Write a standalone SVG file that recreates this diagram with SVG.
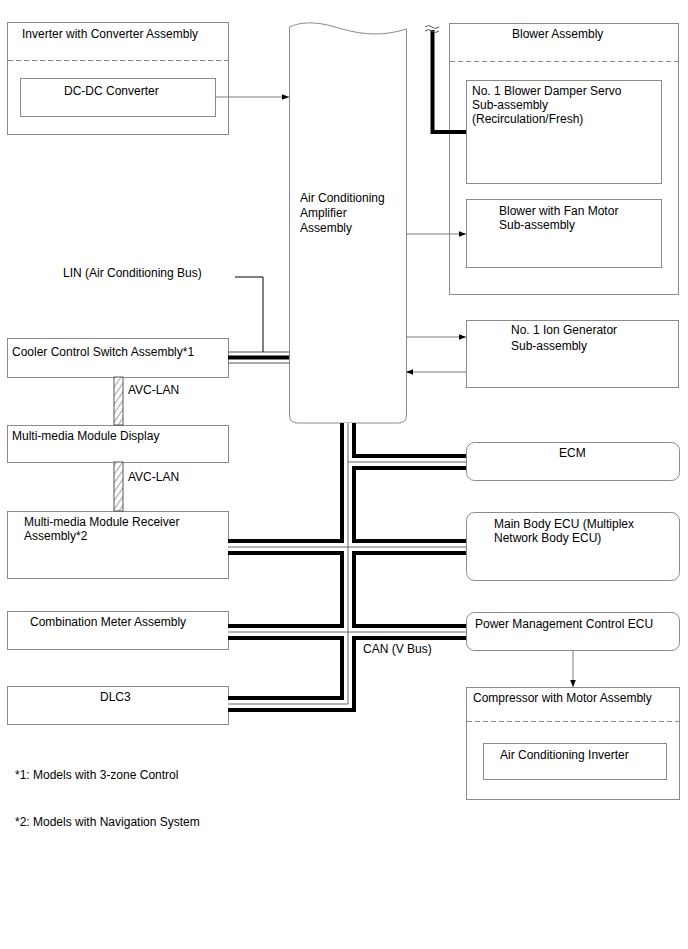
<svg xmlns="http://www.w3.org/2000/svg" width="688" height="949" viewBox="0 0 688 949">
<defs>
<style>
.box{fill:#fff;stroke:#8a8a8a;stroke-width:1}
.dash{stroke:#8a8a8a;stroke-width:1;stroke-dasharray:5,3;fill:none}
.t{font-family:"Liberation Sans",Arial,sans-serif;font-size:12px;fill:#000}
.ln{stroke:#7a7a7a;stroke-width:1;fill:none}
.canB{stroke:#000;stroke-width:16;fill:none;stroke-linejoin:miter}
.canW{stroke:#fff;stroke-width:8;fill:none;stroke-linejoin:miter}
.canC{stroke:#666;stroke-width:1;fill:none}
</style>
<marker id="ah" viewBox="0 0 10 10" refX="10" refY="5" markerWidth="9" markerHeight="7" markerUnits="userSpaceOnUse" orient="auto">
<path d="M0,1 L10,5 L0,9 Z" fill="#000"/>
</marker>
<pattern id="hatch" patternUnits="userSpaceOnUse" width="5" height="5" patternTransform="rotate(35)">
<rect width="5" height="5" fill="#fff"/>
<line x1="0" y1="0" x2="0" y2="5" stroke="#444" stroke-width="1"/>
</pattern>
</defs>
<rect width="688" height="949" fill="#fff"/>

<g id="inverter-converter">
<rect class="box" x="7.5" y="22.5" width="221" height="112"/>
<line class="dash" x1="8" y1="60.5" x2="228" y2="60.5"/>
<text class="t" x="22" y="38">Inverter with Converter Assembly</text>
</g>
<g id="dcdc-converter">
<rect class="box" x="20.5" y="78.5" width="195" height="38"/>
<text class="t" x="64" y="95">DC-DC Converter</text>
</g>

<g id="ac-amplifier">
<path class="box" d="M289.5,27 C300,22 315,21 335,27 C355,33 378,38 406.5,29 V415 Q406.5,423 398.5,423 H297.5 Q289.5,423 289.5,415 Z"/>
<text class="t" x="300" y="202">Air Conditioning</text>
<text class="t" x="300" y="217">Amplifier</text>
<text class="t" x="300" y="232">Assembly</text>
</g>

<g id="blower-assembly">
<rect class="box" x="449.5" y="23.5" width="229" height="271"/>
<line class="dash" x1="450" y1="61.5" x2="678" y2="61.5"/>
<text class="t" x="512" y="38">Blower Assembly</text>
</g>
<g id="damper-servo">
<rect class="box" x="466.5" y="80.5" width="195" height="103"/>
<text class="t" x="472" y="95">No. 1 Blower Damper Servo</text>
<text class="t" x="472" y="109">Sub-assembly</text>
<text class="t" x="472" y="123">(Recirculation/Fresh)</text>
</g>
<g id="blower-fan-motor">
<rect class="box" x="466.5" y="199.5" width="195" height="68"/>
<text class="t" x="499" y="215">Blower with Fan Motor</text>
<text class="t" x="499" y="229">Sub-assembly</text>
</g>

<g id="lin-label">
<text class="t" x="63" y="277">LIN (Air Conditioning Bus)</text>
</g>

<g id="ion-generator">
<rect class="box" x="466.5" y="320.5" width="212" height="67"/>
<text class="t" x="511" y="334">No. 1 Ion Generator</text>
<text class="t" x="511" y="350">Sub-assembly</text>
</g>

<g id="cooler-control">
<rect class="box" x="7.5" y="338.5" width="221" height="39"/>
<text class="t" x="12" y="356">Cooler Control Switch Assembly*1</text>
</g>
<g id="avc-labels">
<text class="t" x="128" y="394">AVC-LAN</text>
<text class="t" x="128" y="481">AVC-LAN</text>
</g>
<g id="mm-display">
<rect class="box" x="7.5" y="425.5" width="221" height="37"/>
<text class="t" x="12" y="440">Multi-media Module Display</text>
</g>
<g id="mm-receiver">
<rect class="box" x="7.5" y="511.5" width="221" height="67"/>
<text class="t" x="24" y="526">Multi-media Module Receiver</text>
<text class="t" x="24" y="540">Assembly*2</text>
</g>
<g id="combination-meter">
<rect class="box" x="7.5" y="611.5" width="221" height="38"/>
<text class="t" x="30" y="626">Combination Meter Assembly</text>
</g>
<g id="dlc3">
<rect class="box" x="7.5" y="686.5" width="221" height="38"/>
<text class="t" x="100" y="701">DLC3</text>
</g>

<g id="ecm">
<rect class="box" x="466.5" y="442.5" width="213" height="38" rx="8"/>
<text class="t" x="559" y="457">ECM</text>
</g>
<g id="main-body-ecu">
<rect class="box" x="466.5" y="512.5" width="213" height="68" rx="8"/>
<text class="t" x="494" y="528">Main Body ECU (Multiplex</text>
<text class="t" x="494" y="542">Network Body ECU)</text>
</g>
<g id="power-management-ecu">
<rect class="box" x="466.5" y="612.5" width="213" height="38" rx="8"/>
<text class="t" x="475" y="628">Power Management Control ECU</text>
</g>
<g id="can-label">
<text class="t" x="363" y="653">CAN (V Bus)</text>
</g>
<g id="compressor">
<rect class="box" x="466.5" y="687.5" width="213" height="112"/>
<line class="dash" x1="467" y1="721.5" x2="679" y2="721.5"/>
<text class="t" x="473" y="702">Compressor with Motor Assembly</text>
</g>
<g id="ac-inverter">
<rect class="box" x="483.5" y="743.5" width="183" height="36"/>
<text class="t" x="500" y="759">Air Conditioning Inverter</text>
</g>

<g id="notes">
<text class="t" x="15" y="779">*1: Models with 3-zone Control</text>
<text class="t" x="15" y="826">*2: Models with Navigation System</text>
</g>

<g id="connectors">
<!-- CAN bus -->
<path class="canB" d="M348,423 V704 H228"/>
<path class="canB" d="M348,462 H466"/>
<path class="canB" d="M228,547 H466"/>
<path class="canB" d="M228,632 H466"/>
<path class="canW" d="M348,423 V704 H228"/>
<path class="canW" d="M348,462 H466"/>
<path class="canW" d="M228,547 H466"/>
<path class="canW" d="M228,632 H466"/>
<path class="canC" d="M348,423 V704 H228"/>
<path class="canC" d="M348,462 H466"/>
<path class="canC" d="M228,547 H466"/>
<path class="canC" d="M228,632 H466"/>
<!-- LIN bus -->
<line x1="228" y1="352" x2="289" y2="352" stroke="#555" stroke-width="1"/>
<line x1="228" y1="357.5" x2="289" y2="357.5" stroke="#000" stroke-width="4"/>
<line x1="228" y1="363" x2="289" y2="363" stroke="#555" stroke-width="1"/>
<path d="M235,277 H263 V352" stroke="#000" stroke-width="1" fill="none"/>
<!-- AVC-LAN -->
<rect x="114" y="377" width="9" height="48" fill="url(#hatch)" stroke="#555" stroke-width="1"/>
<rect x="114" y="462" width="9" height="49" fill="url(#hatch)" stroke="#555" stroke-width="1"/>
<!-- damper servo wire -->
<path d="M432.5,30 V132 H466" stroke="#000" stroke-width="4" fill="none"/>
<path d="M425,27 q3.5,-3 7,0 t7,0 M425,31 q3.5,-3 7,0 t7,0" stroke="#555" stroke-width="1" fill="none"/>
<!-- arrows -->
<line class="ln" x1="215" y1="97" x2="289" y2="97" marker-end="url(#ah)"/>
<line class="ln" x1="406" y1="234" x2="466" y2="234" marker-end="url(#ah)"/>
<line class="ln" x1="406" y1="337" x2="466" y2="337" marker-end="url(#ah)"/>
<line class="ln" x1="466" y1="372" x2="406" y2="372" marker-end="url(#ah)"/>
<line class="ln" x1="573" y1="650" x2="573" y2="687" marker-end="url(#ah)"/>
</g>
</svg>
